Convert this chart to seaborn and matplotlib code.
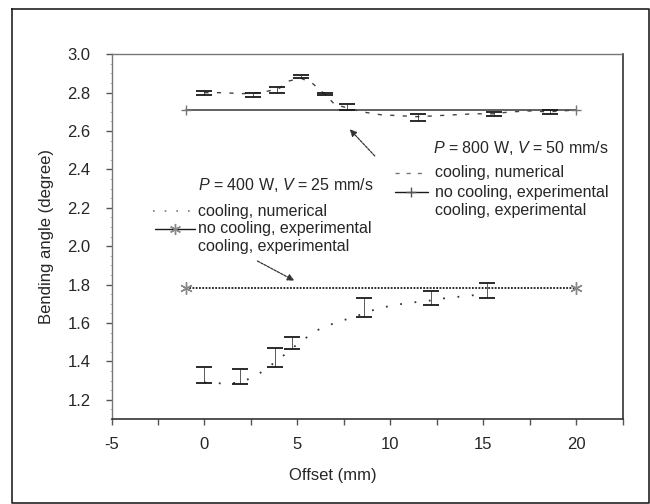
import numpy as np
import pandas as pd
import matplotlib
matplotlib.use("Agg")
import matplotlib.pyplot as plt
import seaborn as sns
from matplotlib.lines import Line2D
from matplotlib.ticker import MultipleLocator

# ---------------- data ----------------
# 800 W, 50 mm/s
nc800_x = [-1, 20]
nc800_y = [2.71, 2.71]
num800_x = [0, 1, 2, 3, 4, 4.5, 5.2, 5.8, 6.5, 7.0, 7.7, 8.5, 9.5, 10.5, 11.5, 12.5, 13.5, 14.5, 15.5, 16.5, 17.5, 18.5, 20]
num800_y = [2.80, 2.80, 2.795, 2.80, 2.82, 2.86, 2.875, 2.85, 2.79, 2.74, 2.72, 2.70, 2.685, 2.68, 2.675, 2.68, 2.685, 2.69, 2.69, 2.70, 2.705, 2.70, 2.71]
exp800_x = [0, 2.6, 3.9, 5.2, 6.5, 7.7, 11.5, 15.6, 18.6]
exp800_y = [2.798, 2.787, 2.815, 2.882, 2.793, 2.725, 2.671, 2.69, 2.70]
exp800_e = [0.012, 0.010, 0.015, 0.008, 0.007, 0.015, 0.016, 0.010, 0.010]

# 400 W, 25 mm/s
nc400_x = [-1, 20]
nc400_y = [1.78, 1.78]
num400_x = [0, 1, 2, 3, 4, 5, 6, 7, 8, 9, 10, 11, 12, 13, 14, 15]
num400_y = [1.29, 1.285, 1.29, 1.34, 1.41, 1.49, 1.56, 1.60, 1.63, 1.665, 1.69, 1.705, 1.715, 1.73, 1.74, 1.75]
exp400_x = [0, 1.9, 3.8, 4.7, 8.6, 12.2, 15.2]
exp400_y = [1.33, 1.32, 1.42, 1.497, 1.68, 1.73, 1.77]
exp400_e = [0.04, 0.04, 0.05, 0.032, 0.05, 0.038, 0.04]

xticks = [-5, 0, 5, 10, 15, 20]
yticks = [1.2, 1.4, 1.6, 1.8, 2.0, 2.2, 2.4, 2.6, 2.8, 3.0]

# ---------------- style ----------------
sns.set_theme(style="ticks")
plt.rcParams['font.family'] = ['Liberation Sans', 'DejaVu Sans']
plt.rcParams['mathtext.fontset'] = 'custom'
plt.rcParams['mathtext.rm'] = 'Liberation Sans'
plt.rcParams['mathtext.it'] = 'Liberation Sans:italic'
FS = 11.5

W, H = 650, 504
fig = plt.figure(figsize=(6.5, 5.04), dpi=100)
ax = fig.add_axes([111.5 / W, 1 - 419 / H, (622.5 - 111.5) / W, (419 - 54.3) / H])

dark = '#1a1a1a'

# 800 W
sns.lineplot(x=nc800_x, y=nc800_y, ax=ax, color='#555555', lw=1.3, marker='+',
             markersize=7, markeredgewidth=1.0, markeredgecolor='#777777', legend=False)
sns.lineplot(x=num800_x, y=num800_y, ax=ax, color='#444444', lw=1.0, legend=False,
             linestyle=(0, (3, 6)), sort=False)
ax.errorbar(exp800_x, exp800_y, yerr=exp800_e, fmt='none', ecolor=dark,
            elinewidth=0.5, capsize=6, capthick=1.3)

# 400 W
sns.lineplot(x=nc400_x, y=nc400_y, ax=ax, color=dark, lw=1.3, linestyle=(0, (1, 0.8)),
             legend=False)
ax.plot(nc400_x, nc400_y, ls='none', marker=(6, 2, 0), markersize=9, color='#888888', mew=1.0)
sns.lineplot(x=num400_x, y=num400_y, ax=ax, color='#333333', lw=1.3, legend=False,
             linestyle=(0, (1, 7)), sort=False)
ax.errorbar(exp400_x, exp400_y, yerr=exp400_e, fmt='none', ecolor=dark,
            elinewidth=0.5, capsize=6, capthick=1.3)

# ---------------- axes ----------------
ax.set_xlim(-5, 22.5)
ax.set_ylim(1.1, 3.0)
ax.set_xticks(xticks)
ax.set_xticklabels([str(t) for t in xticks], fontsize=FS + 0.5)
ax.set_yticks(yticks)
ax.set_yticklabels([f"{t:.1f}" for t in yticks], fontsize=FS + 0.5)
ax.xaxis.set_minor_locator(MultipleLocator(2.5))
ax.yaxis.set_minor_locator(MultipleLocator(0.05))
ax.tick_params(axis='both', which='major', direction='out', length=4, width=1.0,
               color='#555555')
ax.tick_params(axis='x', which='minor', direction='out', length=4, width=1.0, color='#555555')
ax.tick_params(axis='y', which='minor', direction='out', length=1.5, width=0.6, color='#aaaaaa')
ax.tick_params(axis='y', which='major', pad=11)
ax.tick_params(axis='x', which='major', pad=9)

for s in ['left', 'top']:
    ax.spines[s].set_linestyle((0, (1, 1)))
    ax.spines[s].set_color('#777777')
    ax.spines[s].set_linewidth(1.0)
for s in ['bottom', 'right']:
    ax.spines[s].set_color('#333333')
    ax.spines[s].set_linewidth(1.2)

ax.set_xlabel('Offset (mm)', fontsize=FS + 0.5)
ax.set_ylabel('Bending angle (degree)', fontsize=FS + 0.5)
ax.xaxis.set_label_coords((333 - 111.5) / (622.5 - 111.5), -(475 - 419) / (419 - 54.3))
ax.yaxis.set_label_coords(-(111.5 - 47) / (622.5 - 111.5), 0.5)
ax.xaxis.label.set_verticalalignment('center')
ax.yaxis.label.set_verticalalignment('center')

# ---------------- annotations ----------------
def fx(px):
    return px / W

def fy(py):
    return 1 - py / H

fig.text(fx(198), fy(185), r'$P$ = 400 W, $V$ = 25 mm/s', fontsize=FS, va='center')
for txt, py in [('cooling, numerical', 211), ('no cooling, experimental', 229),
                ('cooling, experimental', 247)]:
    fig.text(fx(198), fy(py), txt, fontsize=FS, va='center')
fig.add_artist(Line2D([fx(153), fx(190)], [fy(211), fy(211)], color='#777777', lw=1.2,
                      linestyle=(0, (1, 6))))
fig.add_artist(Line2D([fx(155), fx(195)], [fy(229), fy(229)], color=dark, lw=1.0))
fig.add_artist(Line2D([fx(175)], [fy(229)], marker=(6, 2, 0), markersize=8, color='#888888',
                      ls='none', mew=1.0))

fig.text(fx(433), fy(148), r'$P$ = 800 W, $V$ = 50 mm/s', fontsize=FS, va='center')
for txt, py in [('cooling, numerical', 173), ('no cooling, experimental', 192),
                ('cooling, experimental', 210)]:
    fig.text(fx(435), fy(py), txt, fontsize=FS, va='center')
fig.add_artist(Line2D([fx(395), fx(425)], [fy(173), fy(173)], color='#777777', lw=1.0,
                      linestyle=(0, (3, 5))))
fig.add_artist(Line2D([fx(395), fx(428)], [fy(192), fy(192)], color=dark, lw=1.0))
fig.add_artist(Line2D([fx(411)], [fy(192)], marker='+', markersize=7, color='#555555',
                      ls='none', mew=1.0))

arrow_kw = dict(arrowstyle='-|>', color='#333333', lw=0.9, linestyle=(0, (2, 1)),
                mutation_scale=10)
ax.annotate('', xy=(4.97, 1.814), xytext=(2.72, 1.93), arrowprops=arrow_kw)
ax.annotate('', xy=(7.72, 2.62), xytext=(9.27, 2.46), arrowprops=arrow_kw)

# outer frame
fig.add_artist(Line2D([fx(12), fx(12), fx(648.5), fx(648.5), fx(12)],
                      [fy(9), fy(503), fy(503), fy(9), fy(9)], color='#222222', lw=1.2))

fig.savefig('out.png', dpi=100)
